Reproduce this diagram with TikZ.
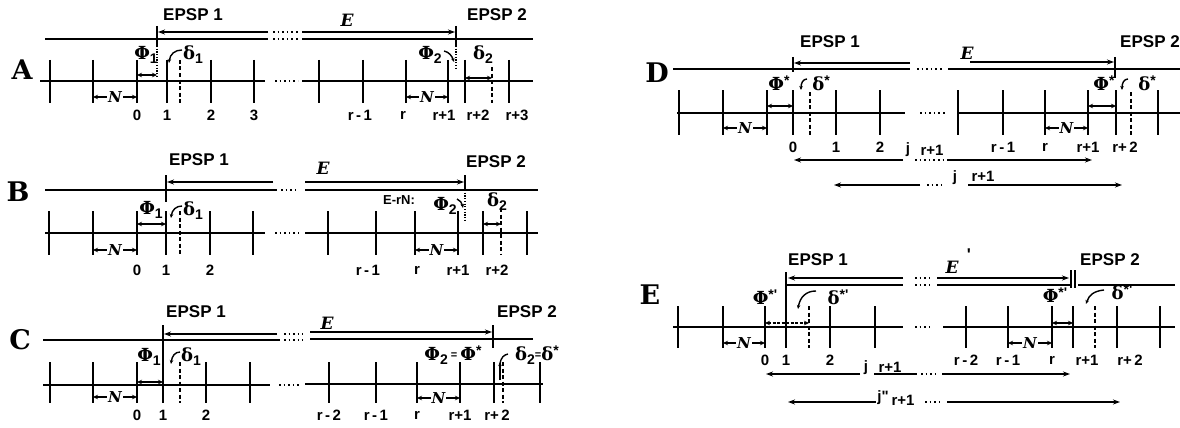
\documentclass[tikz,border=0pt]{standalone}
\usepackage{fontspec}
\setsansfont{Liberation Sans}
\newfontfamily\panelfont{DejaVu Serif}
\newfontfamily\grk{DejaVu Serif}
\usetikzlibrary{arrows.meta}
\newcommand\sub[1]{\raisebox{-4pt}{\sffamily\bfseries\fontsize{14}{14}\selectfont #1}}
\newcommand\sups[1]{\raisebox{5pt}{\sffamily\bfseries\fontsize{14}{14}\selectfont #1}}
\tikzset{
  tk/.style={line width=1.6pt},
  axon/.style={line width=1.6pt},
  dashv/.style={line width=1.3pt, dash pattern=on 4pt off 2.5pt},
  dotv/.style={line width=1.3pt, dash pattern=on 1.2pt off 1.5pt},
  dotsline/.style={line width=1.6pt, dash pattern=on 1.6pt off 3pt},
  arl/.style={line width=1.4pt, -{Stealth[length=7pt,width=5pt]}},
  dbl/.style={line width=1.3pt, {Stealth[length=5pt,width=4.5pt]}-{Stealth[length=5pt,width=4.5pt]}},
  hook/.style={line width=1.4pt, -{Stealth[length=4pt,width=3.5pt]}},
  lab/.style={font=\sffamily\bfseries\fontsize{17}{17}\selectfont, inner sep=0},
  num/.style={font=\sffamily\bfseries\fontsize{15}{15}\selectfont, inner sep=0},
  pan/.style={font=\panelfont\bfseries\fontsize{27}{27}\selectfont, inner sep=0},
  sym/.style={font=\grk\bfseries\fontsize{18}{18}\selectfont, inner sep=0},
  ite/.style={font=\grk\bfseries\itshape\fontsize{17}{17}\selectfont, inner sep=0},
  nn/.style={font=\grk\bfseries\itshape\fontsize{15}{15}\selectfont, fill=white, inner sep=0.8pt},
  small/.style={font=\sffamily\bfseries\fontsize{13}{13}\selectfont, inner sep=0},
}
\begin{document}
\begin{tikzpicture}[x=1pt,y=-1pt]
\useasboundingbox (0,0) rectangle (1180,428);
% ================= Panel A =================
\node[pan] (lA) at (22,70) {A};
\node[lab] (eA1) at (193,15) {EPSP 1};
\node[lab] (eA2) at (497,15) {EPSP 2};
\node[ite] (EA) at (347,20) {E};
\draw[axon] (45,39) -- (268,39); \draw[dotsline] (273,39) -- (298,39); \draw[axon] (302,39) -- (533,39);
\draw[arl] (268,32) -- (158,32); \draw[dotsline] (273,32) -- (298,32); \draw[arl] (302,32) -- (455,32);
\draw[tk] (157,26) -- (157,46); \draw[dotv] (157,46) -- (157,77);
\draw[tk] (456,26) -- (456,46); \draw[dotv] (456,46) -- (456,68);
\draw[axon] (40,81) -- (265,81); \draw[dotsline] (275,81) -- (298,81); \draw[axon] (302,81) -- (533,81);
\foreach \x in {50,93,137,167,211,254,319,363,406,448,465,509} \draw[tk] (\x,60) -- (\x,103);
\draw[dashv] (180,60) -- (180,103); \draw[dashv] (492,67) -- (492,103);
\node[sym] (pA1) at (146,55) {Φ\sub1};
\node[sym] (dA1) at (193,55) {δ\sub1};
\draw[hook] (182,50) .. controls (175,50) and (170,54) .. (169,63);
\node[sym] (pA2) at (430,55) {Φ\sub2};
\draw[hook] (444,51) .. controls (449,52) and (452,56) .. (454,62);
\node[sym] (dA2) at (483,55) {δ\sub2};
\draw[dbl] (137,75) -- (157,75); \draw[dbl] (465,78) -- (492,78);
\draw[dbl] (93,97) -- (137,97) node[midway,nn] (nA1) {N};
\draw[dbl] (406,97) -- (448,97) node[midway,nn] (nA2) {N};
\foreach \x/\t in {137/0,167/1,211/2,254/3,360/{r\,-\,1},403/r,444/{r+1},478/{r+2},517/{r+3}}
  \node[num] at (\x,115) {\t};
% ================= Panel B =================
\node[pan] (lB) at (18,192) {B};
\node[lab] (eB1) at (199,160) {EPSP 1};
\node[lab] (eB2) at (496,162) {EPSP 2};
\node[ite] (EB) at (323,168) {E};
\draw[axon] (45,190) -- (277,190); \draw[dotsline] (281,190) -- (299,190); \draw[axon] (305,190) -- (538,190);
\draw[arl] (273,182) -- (167,182); \draw[arl] (305,182) -- (464,182);
\draw[tk] (166,175) -- (166,202);
\draw[tk] (465,175) -- (465,190); \draw[dotv] (465,190) -- (465,220);
\draw[axon] (45,233) -- (265,233); \draw[dotsline] (275,233) -- (299,233); \draw[axon] (305,233) -- (538,233);
\foreach \x in {49,93,137,166,210,253,328,376,415,458,483,527} \draw[tk] (\x,211) -- (\x,255);
\draw[dashv] (180,211) -- (180,255); \draw[dashv] (501,208) -- (501,255);
\node[sym] (pB1) at (151,210) {Φ\sub1};
\node[sym] (dB1) at (193,211) {δ\sub1};
\draw[hook] (182,206) .. controls (176,206) and (172,210) .. (171,218);
\node[small] (erB) at (399,200) {E-rN:};
\node[sym] (pB2) at (445,206) {Φ\sub2};
\draw[hook] (457,199) .. controls (460,200) and (462,203) .. (463,208);
\node[sym] (dB2) at (497,202) {δ\sub2};
\draw[dbl] (137,224) -- (166,224); \draw[dbl] (483,224) -- (501,224);
\draw[dbl] (93,250) -- (137,250) node[midway,nn] (nB1) {N};
\draw[dbl] (415,250) -- (458,250) node[midway,nn] (nB2) {N};
\foreach \x/\t in {137/0,166/1,210/2,368/{r\,-\,1},417/r,458/{r+1},497/{r+2}}
  \node[num] at (\x,270) {\t};
% ================= Panel C =================
\node[pan] (lC) at (20,340) {C};
\node[lab] (eC1) at (196,312) {EPSP 1};
\node[lab] (eC2) at (527,312) {EPSP 2};
\node[ite] (EC) at (327,323) {E};
\draw[axon] (43,340) -- (280,340); \draw[dotsline] (284,340) -- (303,340); \draw[dotsline] (284,334) -- (303,334); \draw[axon] (310,339) -- (533,339);
\draw[arl] (277,334) -- (164,334); \draw[arl] (310,332) -- (492,332);
\draw[tk] (163,325) -- (163,362);
\draw[tk] (493,325) -- (493,348);
\draw[axon] (43,385) -- (270,385); \draw[dotsline] (279,385) -- (299,385); \draw[axon] (305,384) -- (543,384);
\foreach \x in {50,93,137,163,206,250,329,376,417,460,494,540} \draw[tk] (\x,362) -- (\x,403);
\draw[dashv] (180,362) -- (180,403); \draw[dashv] (503,362) -- (503,403);
\node[sym] (pC1) at (149,357) {Φ\sub1};
\node[sym] (dC1) at (191,357) {δ\sub1};
\draw[hook] (180,352) .. controls (175,352) and (172,356) .. (171,364);
\node[sym] (pC2) at (453,355) {Φ\sub2\,\raisebox{2pt}{\sffamily\fontsize{11}{11}\selectfont =}\,Φ\sups{*}};
\node[sym] (dC2) at (537,355) {δ\sub2\raisebox{2pt}{\sffamily\fontsize{11}{11}\selectfont =}δ\sups{*}};
\draw[hook] (500,380) -- (500,362);
\draw[line width=1.4pt] (500,364) .. controls (501,357) and (504,355) .. (508,354);
\draw[dbl] (137,382) -- (163,382);
\draw[dbl] (93,397) -- (137,397) node[midway,nn] (nC1) {N};
\draw[dbl] (417,398) -- (460,398) node[midway,nn] (nC2) {N};
\foreach \x/\t in {137/0,163/1,206/2,329/{r\,-\,2},376/{r\,-\,1},417/r,460/{r+1},497/{r+\,2}}
  \node[num] at (\x,415) {\t};
% ================= Panel D =================
\node[pan] (lD) at (657,73) {D};
\node[lab] (eD1) at (830,42) {EPSP 1};
\node[lab] (eD2) at (1150,42) {EPSP 2};
\node[ite] (ED) at (967,53) {E};
\draw[axon] (673,69) -- (910,69); \draw[dotsline] (917,69) -- (943,69); \draw[axon] (948,69) -- (1180,69);
\draw[arl] (910,63) -- (794,63); \draw[arl] (970,62) -- (1114,62);
\draw[tk] (793,57) -- (793,72);
\draw[tk] (1115,57) -- (1115,78);
\draw[axon] (677,113) -- (905,113); \draw[dotsline] (920,113) -- (946,113); \draw[axon] (958,113) -- (1180,113);
\foreach \x in {679,723,767,793,836,880,958,1003,1045,1088,1116,1158} \draw[tk] (\x,90) -- (\x,135);
\draw[dashv] (810,92) -- (810,135); \draw[dashv] (1131,92) -- (1131,135);
\node[sym] (pD1) at (779,83) {Φ\sups{*}};
\node[sym] (dD1) at (821,83) {δ\sups{*}};
\draw[hook] (807,79) .. controls (803,79) and (801,83) .. (801,90);
\node[sym] (pD2) at (1104,83) {Φ\sups{*}};
\node[sym] (dD2) at (1147,83) {δ\sups{*}};
\draw[hook] (1128,79) .. controls (1124,79) and (1122,83) .. (1122,90);
\draw[dbl] (767,106) -- (793,106); \draw[dbl] (1088,106) -- (1116,106);
\draw[dbl] (723,128) -- (767,128) node[midway,nn] (nD1) {N};
\draw[dbl] (1045,128) -- (1088,128) node[midway,nn] (nD2) {N};
\foreach \x/\t in {793/0,836/1,880/2,1003/{r\,-\,1},1045/r,1088/{r+1},1125/{r+\,2}}
  \node[num] at (\x,147) {\t};
\node[num] (jD1) at (908,150) {j};
\node[num] (rD1) at (932,150) {r+1};
\draw[arl] (903,160) -- (794,160); \draw[dotsline] (915,160) -- (943,160); \draw[arl] (947,160) -- (1092,160);
\draw[arl] (920,185) -- (834,185); \draw[dotsline] (927,185) -- (941,185);
\node[num] (jD2) at (955,178) {j};
\node[num] (rD2) at (983,176) {r+1};
\draw[arl] (968,185) -- (1122,185);
% ================= Panel E =================
\node[pan] (lE) at (650,295) {E};
\node[lab] (eE1) at (818,260) {EPSP 1};
\node[lab] (eE2) at (1110,260) {EPSP 2};
\node[ite] (EE) at (952,267) {E};
\node[lab] (EEp) at (969,255) {\textquotesingle};
\draw[axon] (787,285) -- (903,285); \draw[dotsline] (915,285) -- (933,285); \draw[axon] (937,285) -- (1070,285); \draw[axon] (1078,285) -- (1175,285);
\draw[arl] (903,278) -- (788,278); \draw[dotsline] (915,278) -- (933,278); \draw[arl] (937,278) -- (1069,278);
\draw[tk] (786,272) -- (786,306);
\draw[tk] (1071,270) -- (1071,288); \draw[tk] (1075,270) -- (1075,288);
\draw[axon] (673,327) -- (903,327); \draw[dotsline] (915,327) -- (931,327); \draw[axon] (943,327) -- (1175,327);
\foreach \x in {678,723,765,786,830,875,966,1008,1052,1073,1117,1160} \draw[tk] (\x,306) -- (\x,348);
\draw[dashv] (809,306) -- (809,348); \draw[dashv] (1095,306) -- (1095,348);
\node[sym] (pE1) at (765,297) {Φ\sups{*\textquotesingle}};
\node[sym] (dE1) at (838,297) {δ\sups{*\textquotesingle}};
\draw[hook] (816,291) .. controls (806,291) and (800,297) .. (798,309);
\node[sym] (pE2) at (1055,295) {Φ\sups{*\textquotesingle}};
\node[sym] (dE2) at (1122,292) {δ\sups{*\textquotesingle}};
\draw[hook] (1104,290) .. controls (1094,291) and (1089,295) .. (1086,304);
\draw[dbl, dash pattern=on 3pt off 1.5pt] (765,323) -- (809,323);
\draw[dbl] (1052,323) -- (1073,323);
\draw[dbl] (723,343) -- (765,343) node[midway,nn] (nE1) {N};
\draw[dbl] (1008,343) -- (1052,343) node[midway,nn] (nE2) {N};
\foreach \x/\t in {765/0,786/1,830/2,966/{r\,-\,2},1008/{r\,-\,1},1052/r,1087/{r+1},1130/{r+\,2}}
  \node[num] at (\x,360) {\t};
\node[num] (jE1) at (866,368) {j};
\node[num] (rE1) at (890,367) {r+1};
\draw[arl] (860,374) -- (766,374); \draw[axon] (874,374) -- (917,374); \draw[dotsline] (921,374) -- (937,374); \draw[arl] (942,374) -- (1070,374);
\node[num] (jE2) at (883,398) {j\textquotedbl};
\node[num] (rE2) at (903,400) {r+1};
\draw[arl] (876,402) -- (788,402); \draw[dotsline] (925,402) -- (940,402); \draw[arl] (947,402) -- (1120,402);
\end{tikzpicture}
\end{document}
